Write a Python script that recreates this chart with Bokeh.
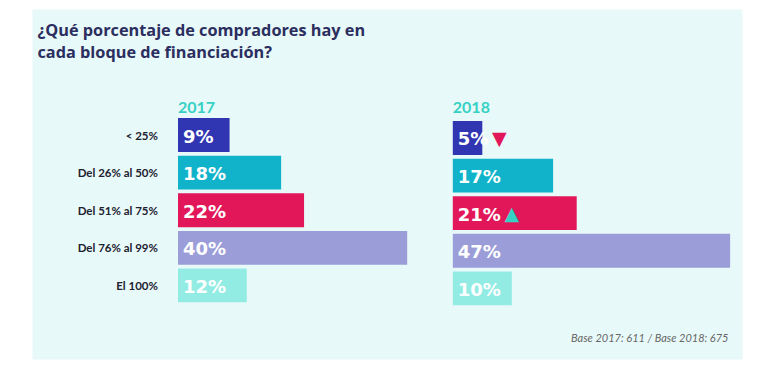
from bokeh.plotting import figure
from bokeh.models import Range1d, BoxAnnotation, ColumnDataSource
from bokeh.core.properties import value
from bokeh.embed import file_html
from bokeh.resources import INLINE

# ---- data ----
categories = ["< 25%", "Del 26% al 50%", "Del 51% al 75%", "Del 76% al 99%", "El 100%"]
values_2017 = [9, 18, 22, 40, 12]
values_2018 = [5, 17, 21, 47, 10]
change_2018 = ["down", "", "up", "", ""]
colors = ["#3035b2", "#10b3c9", "#e2175a", "#9b9dd9", "#93ece4"]
title_lines = ["¿Qué porcentaje de compradores hay en", "cada bloque de financiación?"]
years = ["2017", "2018"]
footer = "Base 2017: 611 / Base 2018: 675"

W, H = 760, 362
rows = list(range(len(categories)))

p = figure(width=W, height=H, output_backend="svg", toolbar_location=None,
           x_range=Range1d(-30.98, 101.66), y_range=Range1d(6.05, -3.577),
           min_border=0, background_fill_color="white", border_fill_color="white",
           outline_line_color=None)
p.axis.visible = False
p.grid.visible = False
p.extra_x_ranges = {"x18": Range1d(-76.66, 52.15), "px": Range1d(0, W)}
p.extra_y_ranges = {"y18": Range1d(5.971, -3.657), "py": Range1d(H, 0)}

# background panel
p.add_layout(BoxAnnotation(left=32, right=742, top=9, bottom=359,
                           x_range_name="px", y_range_name="py",
                           fill_color="#e8f9f9", fill_alpha=1, line_color=None, level="underlay"))

src17 = ColumnDataSource(dict(y=rows, v=values_2017, c=colors,
                              lab=[f"{v}%" for v in values_2017], cat=categories))
src18 = ColumnDataSource(dict(y=rows, v=values_2018, c=colors,
                              lab=[f"{v}%" for v in values_2018]))

p.hbar(y="y", left=0, right="v", height=0.9, fill_color="c", line_color=None, source=src17)
p.hbar(y="y", left=0, right="v", height=0.9, fill_color="c", line_color=None, source=src18,
       x_range_name="x18", y_range_name="y18")

LFS = 18
lab_kw = dict(text_color="white", text_font=value("DejaVu Sans"), text_font_style="bold",
              text_font_size=f"{LFS}px", text_baseline="middle", text_align="left",
              x_offset=5, y_offset=1)
p.text(x=0, y="y", text="lab", source=src17, **lab_kw)
p.text(x=0, y="y", text="lab", source=src18, x_range_name="x18", y_range_name="y18", **lab_kw)

# category labels
p.text(x=-3.5, y="y", text="cat", source=src17, text_align="right", text_baseline="middle",
       text_font=value("Lato"), text_font_style="bold", text_font_size="11.5px",
       text_color="#1e2230")

# change markers
def label_w(s):
    return sum((1.0 if ch == "%" else 0.696) * LFS for ch in s)

mk = {"down": ("▼", "#e2175a"), "up": ("▲", "#36d1c4")}
mx, my, mt, mc = [], [], [], []
for i, ch in enumerate(change_2018):
    if ch:
        mx.append(5 + label_w(f"{values_2018[i]}%") + 11)
        my.append(i)
        mt.append(mk[ch][0])
        mc.append(mk[ch][1])
msrc = ColumnDataSource(dict(x=[0] * len(mx), y=my, t=mt, c=mc, off=mx))
p.text(x="x", y="y", text="t", text_color="c", x_offset="off", source=msrc,
       text_align="center", text_baseline="middle", text_font=value("DejaVu Sans"),
       text_font_size="19px", x_range_name="x18", y_range_name="y18")

# title
p.text(x=[37, 37], y=[29, 51.7], text=title_lines, x_range_name="px", y_range_name="py",
       text_font=value("Open Sans"), text_font_style="bold", text_font_size="16.3px",
       text_color="#2b2e5e", text_baseline="alphabetic")

# year labels
yr_kw = dict(text_font=value("Lato"), text_font_style="bold", text_font_size="16px",
             text_color="#36d1c4", text_baseline="alphabetic", y_range_name="py")
p.text(x=[0], y=[107], text=[years[0]], **yr_kw)
p.text(x=[0], y=[107], text=[years[1]], x_range_name="x18", **yr_kw)

# footer
p.text(x=[728], y=[337], text=[footer], x_range_name="px", y_range_name="py",
       text_font=value("Lato"), text_font_style="italic", text_font_size="11px",
       text_color="#666666", text_align="right", text_baseline="middle")

open("out.html", "w").write(file_html(p, INLINE))
